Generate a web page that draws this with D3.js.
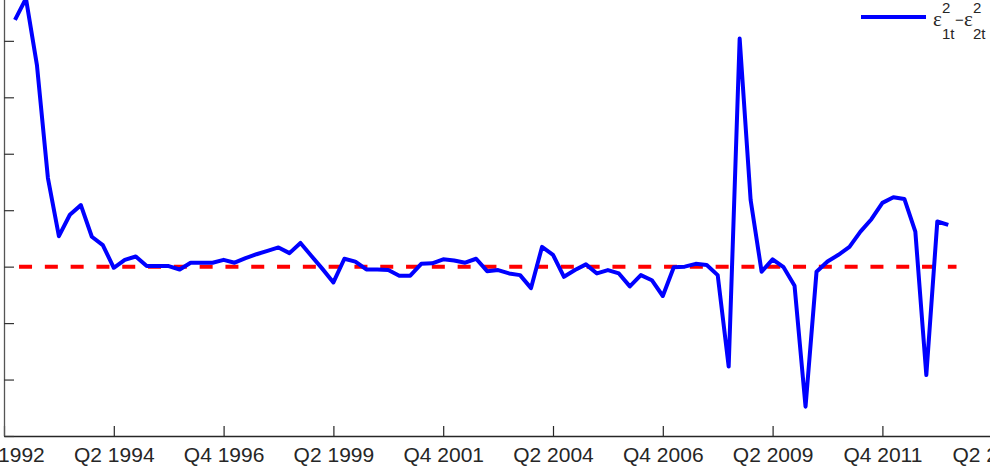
<!DOCTYPE html>
<html>
<head>
<meta charset="utf-8">
<script src="https://cdn.jsdelivr.net/npm/d3@7"></script>
<style>
  body { margin: 0; background: #fff; }
  svg { display: block; }
  .tick text { font-family: "Liberation Sans", Arial, sans-serif; font-size: 21px; fill: #262626; }
</style>
</head>
<body>
<div id="chart"></div>
<script>
var width = 990
var height = 472

// quarterly series, first value sits one quarter after the first tick
var firstQuarter = 1
var diffValues = [4.37, 4.75, 3.57, 1.57, 0.54, 0.92, 1.09, 0.53, 0.38, -0.02,
  0.12, 0.18, 0.01, 0.01, 0.01, -0.05, 0.07, 0.07, 0.07, 0.12,
  0.07, 0.15, 0.22, 0.28, 0.34, 0.24, 0.42, 0.19, -0.04, -0.28,
  0.14, 0.09, -0.05, -0.05, -0.06, -0.16, -0.16, 0.05, 0.06, 0.13,
  0.11, 0.07, 0.14, -0.08, -0.06, -0.12, -0.15, -0.38, 0.35, 0.21,
  -0.18, -0.06, 0.04, -0.12, -0.06, -0.12, -0.35, -0.15, -0.24, -0.52,
  -0.01, 0.00, 0.05, 0.03, -0.15, -1.77, 4.04, 1.18, -0.09, 0.13,
  -0.01, -0.34, -2.48, -0.09, 0.09, 0.21, 0.35, 0.62, 0.84, 1.13,
  1.23, 1.20, 0.62, -1.92, 0.80, 0.74]

// zero reference line (quarter index, value)
var zeroLine = [[1.37, 0], [86.75, 0]]

var tickQuarters = [0, 10, 20, 30, 40, 50, 60, 70, 80, 90]
var tickLabels = ["Q1 1992", "Q2 1994", "Q4 1996", "Q2 1999", "Q4 2001",
  "Q2 2004", "Q4 2006", "Q2 2009", "Q4 2011", "Q2 2014"]
var yTicks = [-3, -2, -1, 0, 1, 2, 3, 4, 5]

var svg = d3.select("#chart").append("svg")
  .attr("width", width).attr("height", height)

var x = d3.scaleLinear().domain([0, 90]).range([4, 992.2])
var y = d3.scaleLinear().domain([-3, 5]).range([436, -15.6])

var data = diffValues.map(function(v, i) { return {q: firstQuarter + i, v: v} })

// axes
var bAxis = d3.axisBottom(x)
  .tickValues(tickQuarters)
  .tickFormat(function(d, i) { return tickLabels[i] })
  .tickSizeInner(-10).tickSizeOuter(0).tickPadding(11)
var lAxis = d3.axisLeft(y)
  .tickValues(yTicks)
  .tickFormat("")
  .tickSizeInner(-10).tickSizeOuter(0)

var gx = svg.append("g").attr("transform", "translate(0,436)").call(bAxis)
gx.select(".domain").attr("stroke", "#262626").attr("stroke-width", 1.3)
gx.selectAll(".tick line").attr("stroke", "#262626").attr("stroke-width", 1.2)

var gy = svg.append("g").attr("transform", "translate(4,0)").call(lAxis)
gy.select(".domain").attr("stroke", "#555").attr("stroke-width", 1.3)
gy.selectAll(".tick line").attr("stroke", "#333").attr("stroke-width", 1.2)

// red dashed zero line
svg.append("path")
  .datum(zeroLine)
  .attr("d", d3.line().x(function(d) { return x(d[0]) }).y(function(d) { return y(d[1]) }))
  .attr("fill", "none")
  .attr("stroke", "#ff0000")
  .attr("stroke-width", 4)
  .attr("stroke-dasharray", "13,12.8")

// blue series
svg.append("path")
  .datum(data)
  .attr("d", d3.line().x(function(d) { return x(d.q) }).y(function(d) { return y(d.v) }))
  .attr("fill", "none")
  .attr("stroke", "#0000ff")
  .attr("stroke-width", 4)
  .attr("stroke-linejoin", "round")

// legend
var lg = svg.append("g")
lg.append("line")
  .attr("x1", 861).attr("x2", 926).attr("y1", 17).attr("y2", 17)
  .attr("stroke", "#0000ff").attr("stroke-width", 4)

function eps(x0, sub) {
  lg.append("text").attr("x", x0).attr("y", 26)
    .style("font-family", "'Liberation Serif', serif").style("font-size", "21px")
    .attr("fill", "#262626").text("ε")
  lg.append("text").attr("x", x0 + 9).attr("y", 13)
    .style("font-family", "'Liberation Sans', Arial, sans-serif").style("font-size", "15px")
    .attr("fill", "#262626").text("2")
  lg.append("text").attr("x", x0 + 9).attr("y", 39)
    .style("font-family", "'Liberation Sans', Arial, sans-serif").style("font-size", "15px")
    .attr("fill", "#262626").text(sub)
}
eps(933, "1t")
lg.append("text").attr("x", 955).attr("y", 25)
  .style("font-family", "'Liberation Sans', Arial, sans-serif").style("font-size", "15px")
  .attr("fill", "#262626").text("−")
eps(964, "2t")
</script>
</body>
</html>
